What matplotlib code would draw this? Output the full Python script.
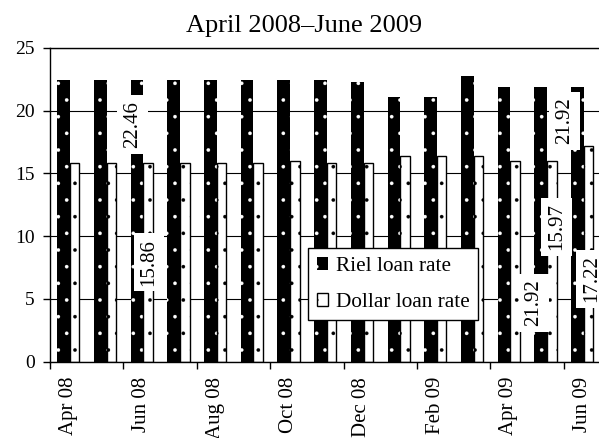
import matplotlib
matplotlib.use("Agg")
import matplotlib.pyplot as plt
import numpy as np
from matplotlib.patches import Patch

plt.rcParams['font.family'] = ['Liberation Serif', 'DejaVu Serif']
plt.rcParams['hatch.linewidth'] = 0.2

months = ["Apr 08", "May 08", "Jun 08", "Jul 08", "Aug 08", "Sep 08", "Oct 08", "Nov 08",
          "Dec 08", "Jan 09", "Feb 09", "Mar 09", "Apr 09", "May 09", "Jun 09"]
riel = [22.46, 22.46, 22.46, 22.46, 22.46, 22.46, 22.46, 22.46,
        22.30, 21.10, 21.10, 22.76, 21.92, 21.92, 21.92]
dollar = [15.86, 15.86, 15.86, 15.86, 15.86, 15.86, 15.97, 15.86,
          15.86, 16.40, 16.40, 16.40, 15.97, 15.97, 17.22]
title = "April 2008\u2013June 2009"
labels = ["22.46", "15.86", "21.92", "15.97", "21.92", "17.22"]
label_pos = [(1.75, 18.9), (2.2, 7.9), (12.68, 4.7), (13.3, 10.75), (13.52, 19.2), (14.25, 6.6)]

fig = plt.figure(figsize=(5.99, 4.38), dpi=100)
ax = fig.add_axes([50/599, 76.5/438, 550.5/599, 313.5/438])

x = np.arange(len(months))
wb, ww = 0.345, 0.26
off = (wb + ww) / 2
ax.bar(x - off, riel, width=wb, align='edge', color='black', edgecolor='white',
       hatch='.', linewidth=0, zorder=2)
ax.bar(x - off + wb, dollar, width=ww, align='edge', color='white', edgecolor='black',
       hatch='.', linewidth=1.0, zorder=2)

ax.set_xlim(-0.5, 14.5)
ax.set_ylim(0, 25)
ax.set_yticks([0, 5, 10, 15, 20, 25])
ax.tick_params(axis='y', direction='out', length=5, width=1, labelsize=14, pad=6)
ax.yaxis.grid(True, color='black', linewidth=0.8, zorder=0)
ax.set_axisbelow(True)

ax.set_xticks(np.arange(-0.5, 14.5, 2))
ax.set_xticklabels([])
ax.tick_params(axis='x', which='major', direction='out', length=5, width=1)
ax.set_xticks(x[::2], minor=True)
ax.set_xticklabels(months[::2], minor=True, rotation=90, fontsize=15)
ax.tick_params(axis='x', which='minor', length=0, pad=11)

for s in ax.spines.values():
    s.set_linewidth(1.0)

for t, (lx, ly) in zip(labels, label_pos):
    ax.text(lx, ly, t, rotation=90, ha='center', va='center', fontsize=15,
            bbox=dict(facecolor='white', edgecolor='none', pad=4), zorder=4, clip_on=False)

h1 = Patch(facecolor='black', edgecolor='white', hatch='.', linewidth=0)
h2 = Patch(facecolor='white', edgecolor='black', hatch='.', linewidth=1)
leg = ax.legend([h1, h2], ["Riel loan rate", "Dollar loan rate"], loc='lower left',
                bbox_to_anchor=(0.469, 0.131), fontsize=15.3, frameon=True, fancybox=False,
                edgecolor='black', framealpha=1, handlelength=0.55, handleheight=0.55,
                handletextpad=0.37, borderpad=0.4, labelspacing=0.8, borderaxespad=0)
leg.get_frame().set_linewidth(1.0)
leg.set_zorder(5)

fig.text(304/599, 1 - 32/438, title, ha='center', va='baseline', fontsize=19)

fig.savefig("out.png", dpi=100)
